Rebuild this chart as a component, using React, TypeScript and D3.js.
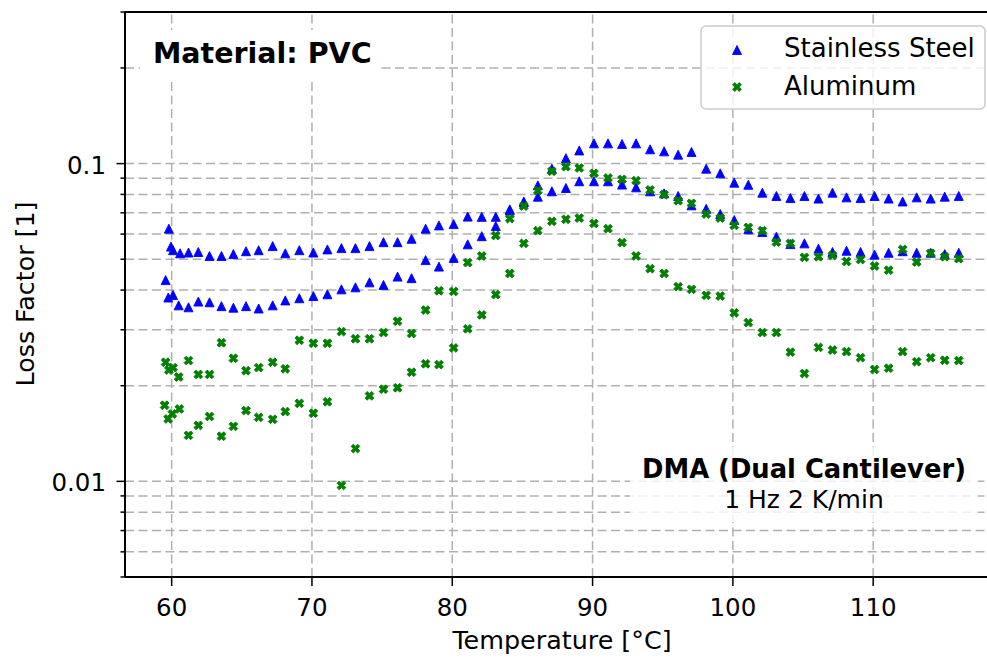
import React from "react";
import * as d3 from "d3";

// ---- data ----
const commonTemps = [
  61.2, 61.9, 62.7, 63.55, 64.4, 65.3, 66.2, 67.2, 68.1, 69.1,
  70.1, 71.1, 72.1, 73.1, 74.1, 75.1, 76.1, 77.1, 78.1, 79.05,
  80.1, 81.1, 82.1, 83.1, 84.1, 85.1, 86.1, 87.1, 88.1, 89.05,
  90.1, 91.1, 92.1, 93.1, 94.1, 95.1, 96.1, 97.05, 98.1, 99.1,
  100.1, 101.1, 102.1, 103.1, 104.1, 105.1, 106.1, 107.1, 108.1, 109.1,
  110.1, 111.1, 112.1, 113.1, 114.1, 115.1, 116.1,
];
const leadTempsSteelA = [59.8, 59.95, 60.1, 60.6];
const leadTempsSteelB = [59.57, 59.76, 60.1, 60.5];
const leadTempsAluA = [59.57, 59.8, 60.1, 60.5];
const leadTempsAluB = [59.5, 59.75, 60.05, 60.55];

const steelA = [
  0.0624, 0.0548, 0.0534, 0.0522,
  0.0525, 0.0527, 0.0512, 0.0512, 0.0519, 0.053, 0.0534, 0.055, 0.0522, 0.0534,
  0.0525, 0.0537, 0.0542, 0.0542, 0.055, 0.0566, 0.0566, 0.058, 0.0624, 0.0639,
  0.0645, 0.0681, 0.068, 0.068, 0.0718, 0.076, 0.0854, 0.0964, 0.104, 0.11,
  0.1158, 0.1158, 0.1153, 0.1158, 0.1109, 0.1093, 0.1067, 0.1088, 0.0964, 0.0932,
  0.0871, 0.0858, 0.081, 0.0791, 0.0779, 0.0791, 0.0776, 0.081, 0.0783, 0.0779,
  0.0791, 0.0776, 0.076, 0.0783, 0.0776, 0.0787, 0.0791,
];
const steelB = [
  0.043, 0.0379, 0.0386, 0.0358,
  0.0353, 0.0368, 0.0366, 0.0356, 0.0352, 0.0356, 0.035, 0.0358, 0.0371, 0.0377,
  0.0383, 0.0388, 0.0402, 0.0408, 0.0423, 0.0415, 0.0441, 0.0436, 0.0497, 0.0474,
  0.0505, 0.0557, 0.0591, 0.0636, 0.0712, 0.0755, 0.0787, 0.0818, 0.0838, 0.088,
  0.088, 0.088, 0.0859, 0.0842, 0.0818, 0.0806, 0.0791, 0.0739, 0.0721, 0.0694,
  0.0664, 0.0621, 0.0609, 0.0589, 0.0558, 0.0561, 0.054, 0.0527, 0.0532, 0.0527,
  0.0517, 0.0524, 0.053, 0.0524, 0.0524, 0.0519, 0.0524,
];
const aluA = [
  0.0237, 0.0224, 0.0228, 0.0213,
  0.024, 0.0217, 0.0217, 0.0273, 0.0244, 0.0223, 0.0228, 0.0237, 0.0226, 0.0278,
  0.0272, 0.0272, 0.0296, 0.0281, 0.0281, 0.0294, 0.0319, 0.0292, 0.0346, 0.0398,
  0.0396, 0.0488, 0.0512, 0.0594, 0.0671, 0.0735, 0.0822, 0.0946, 0.0978, 0.0969,
  0.0932, 0.0901, 0.0892, 0.0884, 0.0826, 0.0799, 0.0764, 0.075, 0.0694, 0.0674,
  0.0639, 0.063, 0.0615, 0.0566, 0.0561, 0.0507, 0.0509, 0.0514, 0.0492, 0.0499,
  0.0476, 0.0462, 0.0537, 0.049, 0.0522, 0.0509, 0.0502,
];
const aluB = [
  0.01736, 0.01572, 0.0163, 0.0169,
  0.01396, 0.015, 0.016, 0.01387, 0.0149, 0.0167, 0.0159, 0.01568, 0.01658, 0.0176,
  0.01638, 0.0178, 0.00971, 0.01268, 0.01858, 0.0195, 0.0197, 0.02205, 0.02344, 0.0233,
  0.0263, 0.0302, 0.0334, 0.0387, 0.0451, 0.0561, 0.0615, 0.0658, 0.0668, 0.0674,
  0.0648, 0.0624, 0.0564, 0.0512, 0.0467, 0.0451, 0.041, 0.0402, 0.0385, 0.0383,
  0.0339, 0.0316, 0.0294, 0.0294, 0.0255, 0.02185, 0.0264, 0.0259, 0.0256, 0.0245,
  0.0225, 0.0227, 0.0256, 0.0238, 0.0245, 0.02405, 0.024,
];

const xTicks = [60, 70, 80, 90, 100, 110];
const yMajorTicks = [0.01, 0.1];
const yTickLabels = ["0.01", "0.1"];
const legendLabels = ["Stainless Steel", "Aluminum"];

// ---- layout ----
const W = 987;
const H = 658;
const L = 125, R = 997, T = 12, B = 577;
const FONT = "DejaVu Sans";

const x = d3.scaleLinear().domain([56.675, 118.825]).range([L, R]);
const y = d3.scaleLog().domain([0.005, 0.3]).range([B, T]);

const triPath = (s: number) => `M0,${-s}L${s},${s}L${-s},${s}Z`;
const xPath = (s: number) => {
  const p = [
    [0.5, 0], [1, 0.5], [0.5, 1], [0, 0.5], [-0.5, 1], [-1, 0.5],
    [-0.5, 0], [-1, -0.5], [-0.5, -1], [0, -0.5], [0.5, -1], [1, -0.5],
  ];
  return "M" + p.map(([a, b]) => `${a * s},${b * s}`).join("L") + "Z";
};

const BLUE = "#0000ff";
const GREEN = "#008000";

const series = [
  { temps: [...leadTempsSteelA, ...commonTemps], vals: steelA, color: BLUE, shape: "tri" },
  { temps: [...leadTempsSteelB, ...commonTemps], vals: steelB, color: BLUE, shape: "tri" },
  { temps: [...leadTempsAluA, ...commonTemps], vals: aluA, color: GREEN, shape: "x" },
  { temps: [...leadTempsAluB, ...commonTemps], vals: aluB, color: GREEN, shape: "x" },
];

function Marker({ shape, color, cx, cy }: { shape: string; color: string; cx: number; cy: number }) {
  const d = shape === "tri" ? triPath(4.5) : xPath(4.4);
  return (
    <path d={d} transform={`translate(${cx},${cy})`} fill={color} stroke={color} strokeWidth={0.9}
      strokeLinejoin="round" />
  );
}

export default function App() {
  const yAll = y.ticks();
  const gridColor = "#b0b0b0";
  const dash = "9,4.5";
  return (
    <svg width={W} height={H} style={{ position: "absolute", left: 0, top: 0, background: "#fff" }}
      fontFamily={FONT}>
      <rect x={0} y={0} width={W} height={H} fill="#fff" />
      {/* grid */}
      {yAll.map((v, i) => (
        <line key={"gy" + i} x1={L} x2={R} y1={y(v)} y2={y(v)} stroke={gridColor}
          strokeWidth={1.5} strokeDasharray={dash} />
      ))}
      {xTicks.map((t) => (
        <line key={"gx" + t} x1={x(t)} x2={x(t)} y1={B} y2={T} stroke={gridColor}
          strokeWidth={1.5} strokeDasharray={dash} />
      ))}
      {/* data */}
      {series.map((s, si) => (
        <g key={"s" + si}>
          {s.vals.map((v, i) => (
            <Marker key={i} shape={s.shape} color={s.color} cx={x(s.temps[i])} cy={y(v)} />
          ))}
        </g>
      ))}
      {/* annotation boxes */}
      <rect x={140} y={30} width={241} height={49} fill="#fff" />
      <text x={153} y={63} fontSize={28.5} fontWeight="bold" fill="#000">Material: PVC</text>
      <rect x={630} y={447} width={348} height={75} fill="#fff" fillOpacity={0.8} />
      <text x={804} y={478} fontSize={25.8} fontWeight="bold" textAnchor="middle" fill="#000">
        DMA (Dual Cantilever)
      </text>
      <text x={804} y={508} fontSize={25} textAnchor="middle" fill="#000">1 Hz 2 K/min</text>
      {/* axes */}
      <line x1={L} x2={L} y1={T} y2={B} stroke="#000" strokeWidth={2} />
      <line x1={L} x2={R} y1={B} y2={B} stroke="#000" strokeWidth={2} />
      <line x1={L} x2={R} y1={T} y2={T} stroke="#000" strokeWidth={2} />
      <line x1={R} x2={R} y1={T} y2={B} stroke="#000" strokeWidth={2} />
      {yAll.map((v, i) => {
        const major = yMajorTicks.some((m) => Math.abs(m - v) < 1e-9);
        return (
          <line key={"ty" + i} x1={L - (major ? 8.5 : 4.5)} x2={L} y1={y(v)} y2={y(v)}
            stroke="#000" strokeWidth={1.5} />
        );
      })}
      {yMajorTicks.map((v, i) => (
        <text key={"yl" + i} x={106} y={y(v) + 10} fontSize={24.5} textAnchor="end" fill="#000">
          {yTickLabels[i]}
        </text>
      ))}
      {xTicks.map((t) => (
        <g key={"tx" + t}>
          <line x1={x(t)} x2={x(t)} y1={B} y2={B + 9} stroke="#000" strokeWidth={1.5} />
          <text x={x(t)} y={616} fontSize={24.5} textAnchor="middle" fill="#000">{t}</text>
        </g>
      ))}
      <text x={562} y={649} fontSize={25.4} textAnchor="middle" fill="#000">Temperature [°C]</text>
      <text transform="translate(33.5,294) rotate(-90)" fontSize={25.3} textAnchor="middle" fill="#000">
        Loss Factor [1]
      </text>
      {/* legend */}
      <rect x={701} y={26} width={284} height={83} rx={5} ry={5} fill="#fff" fillOpacity={0.8}
        stroke="#cccccc" strokeWidth={1.5} />
      <Marker shape="tri" color={BLUE} cx={737} cy={50} />
      <Marker shape="x" color={GREEN} cx={737} cy={87} />
      <text x={784} y={57} fontSize={26} fill="#000">{legendLabels[0]}</text>
      <text x={784} y={95} fontSize={26} fill="#000">{legendLabels[1]}</text>
    </svg>
  );
}
